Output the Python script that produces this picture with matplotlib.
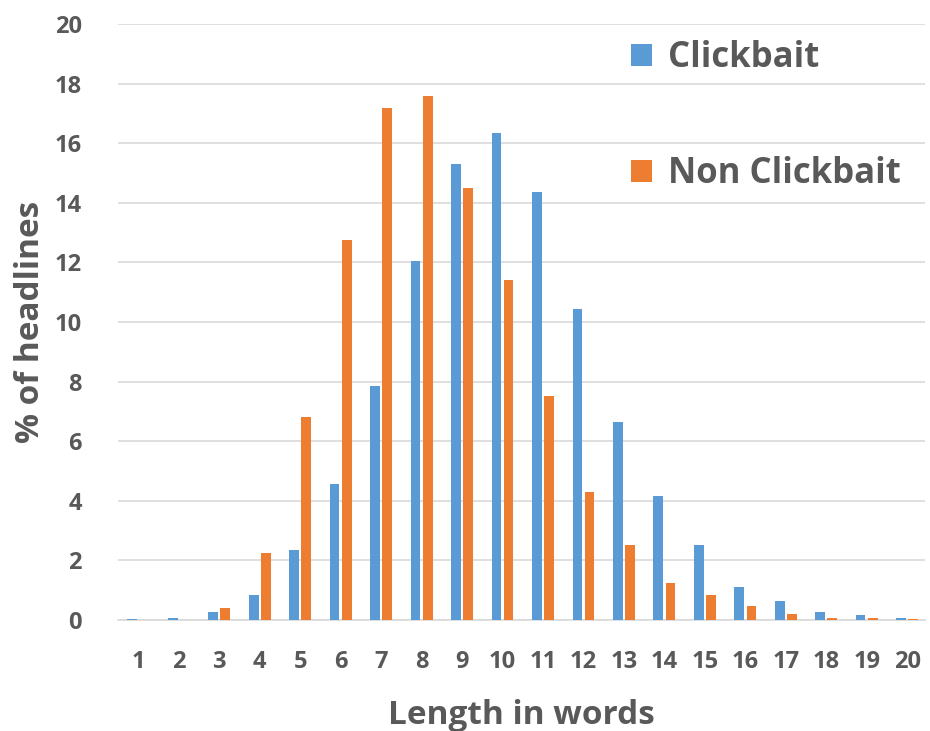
import numpy as np
import matplotlib
matplotlib.use("Agg")
from matplotlib import pyplot as plt

lengths = list(range(1, 21))
clickbait = [0.03, 0.08, 0.25, 0.85, 2.35, 4.55, 7.85, 12.05, 15.3, 16.35,
             14.35, 10.45, 6.65, 4.15, 2.5, 1.1, 0.65, 0.28, 0.15, 0.05]
non_clickbait = [0.0, 0.0, 0.4, 2.25, 6.8, 12.75, 17.2, 17.6, 14.5, 11.4,
                 7.5, 4.3, 2.5, 1.25, 0.85, 0.45, 0.2, 0.05, 0.05, 0.02]
y_ticks = list(range(0, 21, 2))

text_color = "#595959"
plt.rcParams['font.family'] = ['Open Sans', 'DejaVu Sans']
plt.rcParams['font.weight'] = 'bold'

fig = plt.figure(figsize=(9.3, 7.31), dpi=100)
ax = fig.add_axes([0.127, 0.152, 0.868, 0.815])

x = np.array(lengths)
w = 0.24
ax.bar(x - 0.15, clickbait, width=w, color="#5b9bd5", label="Clickbait", zorder=3)
ax.bar(x + 0.15, non_clickbait, width=w, color="#ed7d31", label="Non Clickbait", zorder=3)

ax.set_xlim(0.5, 20.45)
ax.set_ylim(0, 20)
ax.set_xticks(lengths)
ax.set_yticks(y_ticks)
ax.grid(axis='y', color="#d9d9d9", linewidth=1.2, zorder=0)
for s in ['top', 'right', 'left']:
    ax.spines[s].set_visible(False)
ax.spines['bottom'].set_color("#d9d9d9")
ax.spines['bottom'].set_linewidth(1.2)
ax.tick_params(axis='x', length=0, labelsize=17, labelcolor=text_color, pad=22)
ax.tick_params(axis='y', length=0, labelsize=17, labelcolor=text_color, pad=26)
for lbl in ax.get_xticklabels() + ax.get_yticklabels():
    lbl.set_fontweight('bold')

ax.set_xlabel("Length in words", fontsize=24, color=text_color, fontweight='bold', labelpad=18)
ax.set_ylabel("% of headlines", fontsize=24, color=text_color, fontweight='bold', labelpad=6)

leg = ax.legend(loc='upper left', bbox_to_anchor=(0.597, 1.025), frameon=False,
                fontsize=25, handlelength=0.6, handleheight=0.6, handletextpad=0.45,
                labelspacing=2.3)
for t in leg.get_texts():
    t.set_color(text_color)
    t.set_fontweight('bold')

fig.savefig("out.png", dpi=100)
